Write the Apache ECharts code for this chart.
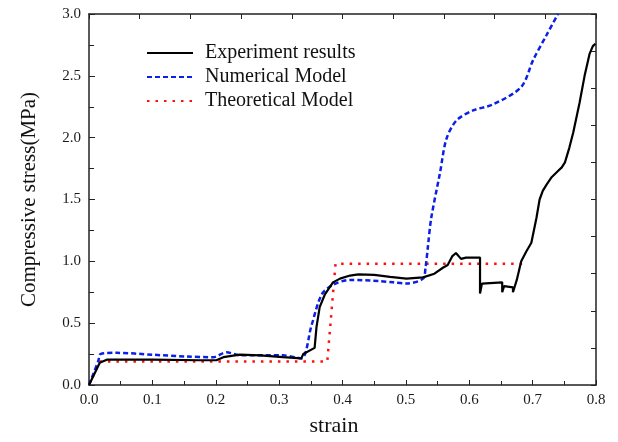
<!DOCTYPE html>
<html>
<head>
<meta charset="utf-8">
<script src="https://cdn.jsdelivr.net/npm/echarts@6/dist/echarts.min.js"></script>
<style>
  html, body { margin: 0; padding: 0; background: #fff; }
  #main { width: 618px; height: 442px; }
</style>
</head>
<body>
<div id="main"></div>
<script>
// values
var seriesNames = ['Experiment results', 'Numerical Model', 'Theoretical Model'];

var expStrain = [0, 0.017, 0.028, 0.1, 0.175, 0.201, 0.212, 0.238, 0.27, 0.306, 0.335, 0.338, 0.356, 0.359,
    0.364, 0.372, 0.385, 0.396, 0.412, 0.425, 0.45, 0.475, 0.501, 0.527, 0.545, 0.559, 0.566, 0.573, 0.579, 0.587,
    0.595, 0.617, 0.617, 0.62, 0.652, 0.652, 0.655, 0.669, 0.669, 0.672, 0.675, 0.682, 0.69, 0.698,
    0.706, 0.711, 0.716, 0.722, 0.73, 0.74, 0.746, 0.751, 0.758, 0.764, 0.774, 0.782, 0.79, 0.795, 0.799];
var expStress = [0, 0.18, 0.205, 0.205, 0.2, 0.2, 0.225, 0.245, 0.24, 0.225, 0.215, 0.25, 0.3, 0.47,
    0.63, 0.73, 0.83, 0.86, 0.885, 0.895, 0.89, 0.875, 0.86, 0.87, 0.9, 0.95, 0.97, 1.04, 1.067, 1.02,
    1.03, 1.03, 0.74, 0.82, 0.83, 0.75, 0.8, 0.79, 0.75, 0.75, 0.85, 1.0, 1.08, 1.15,
    1.35, 1.5, 1.57, 1.62, 1.68, 1.73, 1.76, 1.8, 1.92, 2.04, 2.28, 2.5, 2.68, 2.74, 2.76];

var numStrain = [0, 0.015, 0.018, 0.044, 0.1, 0.154, 0.196, 0.217, 0.238, 0.306, 0.335, 0.351, 0.367,
    0.385, 0.412, 0.459, 0.48, 0.501, 0.527, 0.531, 0.535, 0.54, 0.554, 0.564, 0.58, 0.606, 0.638,
    0.682, 0.701, 0.722, 0.74];
var numStress = [0, 0.2, 0.25, 0.26, 0.245, 0.23, 0.225, 0.265, 0.24, 0.24, 0.215, 0.48, 0.73,
    0.81, 0.85, 0.84, 0.83, 0.82, 0.86, 0.95, 1.13, 1.35, 1.72, 1.99, 2.14, 2.22, 2.27,
    2.41, 2.63, 2.83, 3.0];

var theoStrain = [0, 0.017, 0.376, 0.389, 0.685];
var theoStress = [0, 0.19, 0.19, 0.98, 0.98];

function pairs(xs, ys) {
    return xs.map(function (x, i) { return [x, ys[i]]; });
}

var font = 'Liberation Serif';
var myChart = echarts.init(document.getElementById('main'));

var option = {
    animation: false,
    backgroundColor: '#fff',
    textStyle: { fontFamily: font },
    legend: {
        orient: 'vertical',
        left: 141,
        top: 38,
        itemWidth: 46,
        itemHeight: 14,
        itemGap: 4,
        data: seriesNames,
        itemStyle: { opacity: 0 },
        textStyle: { fontFamily: font, fontSize: 20, color: '#111', padding: [0, 0, 0, 7] }
    },
    grid: { left: 89, right: 22, top: 14, bottom: 54 },
    xAxis: [{
        type: 'value',
        min: 0, max: 0.8, interval: 0.1,
        name: 'strain',
        nameLocation: 'middle',
        nameGap: 30,
        nameTextStyle: { fontFamily: font, fontSize: 22, color: '#111', padding: [0, 17, 0, 0] },
        axisLine: { onZero: false, lineStyle: { color: '#222', width: 1.5 } },
        axisTick: { inside: true, length: 5, lineStyle: { color: '#222' } },
        minorTick: { show: true, splitNumber: 2, length: 4, lineStyle: { color: '#222' } },
        axisLabel: { fontFamily: font, fontSize: 15, color: '#1a1a1a', margin: 8,
            formatter: function (v) { return v.toFixed(1); } },
        splitLine: { show: false }
    }, {
        type: 'value',
        position: 'top',
        min: 0, max: 10, interval: 1,
        axisLine: { onZero: false, lineStyle: { color: '#222', width: 1.5 } },
        axisTick: { inside: true, length: 5, lineStyle: { color: '#222' } },
        axisLabel: { show: false },
        splitLine: { show: false }
    }],
    yAxis: [{
        type: 'value',
        min: 0, max: 3, interval: 0.5,
        name: 'Compressive stress(MPa)',
        nameLocation: 'middle',
        nameGap: 49,
        nameTextStyle: { fontFamily: font, fontSize: 21, color: '#111' },
        axisLine: { show: true, onZero: false, lineStyle: { color: '#222', width: 1.5 } },
        axisTick: { show: true, inside: true, length: 6, lineStyle: { color: '#222' } },
        minorTick: { show: true, splitNumber: 2, length: 5, lineStyle: { color: '#222' } },
        axisLabel: { fontFamily: font, fontSize: 15, color: '#1a1a1a', margin: 8,
            formatter: function (v) { return v.toFixed(1); } },
        splitLine: { show: false }
    }, {
        type: 'value',
        position: 'right',
        min: 0, max: 10, interval: 1,
        axisLine: { show: true, onZero: false, lineStyle: { color: '#222', width: 1.5 } },
        axisTick: { show: true, inside: true, length: 5, lineStyle: { color: '#222' } },
        axisLabel: { show: false },
        splitLine: { show: false }
    }],
    series: [
        {
            name: seriesNames[0],
            type: 'line',
            data: pairs(expStrain, expStress),
            showSymbol: false,
            symbol: 'none',
            lineStyle: { color: '#000', width: 2.2 },
            itemStyle: { color: '#000' },
            z: 3
        },
        {
            name: seriesNames[1],
            type: 'line',
            data: pairs(numStrain, numStress),
            showSymbol: false,
            symbol: 'none',
            smooth: 0.3,
            lineStyle: { color: '#0a1fe8', width: 2.5, type: [5, 3] },
            itemStyle: { color: '#0a1fe8' },
            z: 2
        },
        {
            name: seriesNames[2],
            type: 'line',
            data: pairs(theoStrain, theoStress),
            showSymbol: false,
            symbol: 'none',
            lineStyle: { color: '#ff1010', width: 2.5, type: [2.5, 6] },
            itemStyle: { color: '#ff1010' },
            z: 1
        }
    ]
};
myChart.setOption(option);
</script>
</body>
</html>
